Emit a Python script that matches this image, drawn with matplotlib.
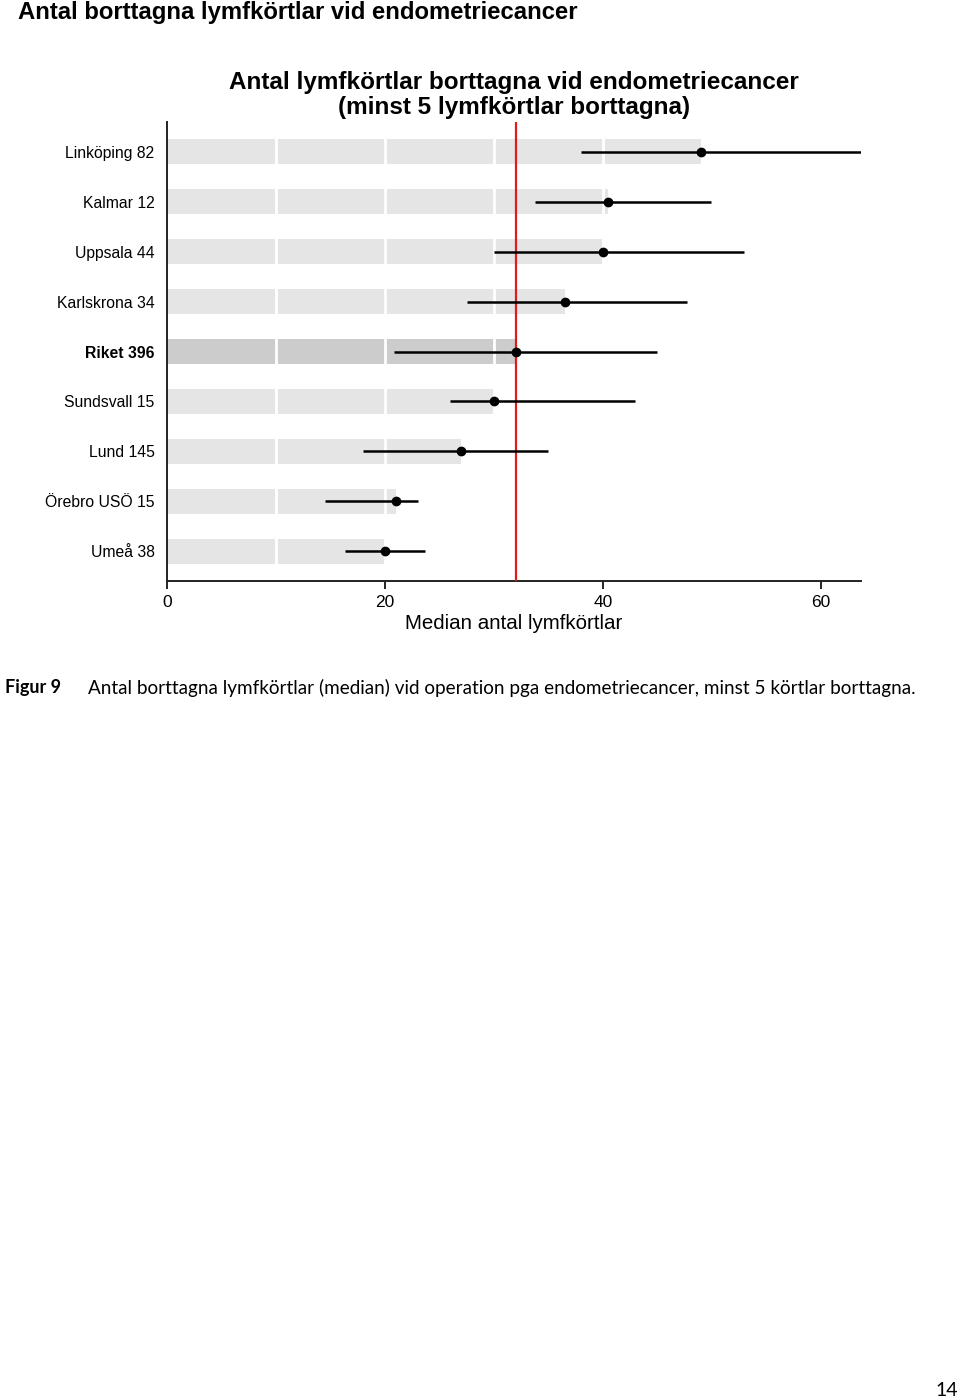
import matplotlib
matplotlib.use("Agg")
import matplotlib.pyplot as plt

labels = ["Linköping 82", "Kalmar 12", "Uppsala 44", "Karlskrona 34", "Riket 396",
          "Sundsvall 15", "Lund 145", "Örebro USÖ 15", "Umeå 38"]
median = [49, 40.5, 40, 36.5, 32, 30, 27, 21, 20]
ci_low = [38, 33.8, 30, 27.5, 20.8, 26, 18, 14.5, 16.3]
ci_high = [63.7, 49.9, 53, 47.7, 45, 43, 35, 23, 23.7]
riket_value = 32
xticks = [0, 20, 40, 60]
grid_x = [10, 20, 30, 40, 50]

plt.rcParams['font.family'] = ['Liberation Sans', 'DejaVu Sans']

fig = plt.figure(figsize=(9.6, 14), dpi=100)
ax = fig.add_axes([167/960, 1 - 581/1400, 694/960, 459/1400])

n = len(labels)
ypos = [n - 1 - i for i in range(n)]
colors = ["#cccccc" if l.startswith("Riket") else "#e5e5e5" for l in labels]

ax.barh(ypos, median, height=0.5, color=colors, zorder=1)
for g in grid_x:
    ax.axvline(g, color="white", lw=2, zorder=2)
ax.axvline(riket_value, color="#dd1c1c", lw=1.6, zorder=3)
for y, lo, hi, m in zip(ypos, ci_low, ci_high, median):
    ax.plot([lo, hi], [y, y], color="black", lw=1.8, zorder=4, solid_capstyle="butt")
    ax.plot([m], [y], "o", color="black", ms=6, zorder=5)

ax.set_xlim(0, 63.7)
ax.set_ylim(-0.6, n - 0.4)
ax.set_yticks(ypos)
ax.set_yticklabels(labels, fontsize=11.3)
for t in ax.get_yticklabels():
    if t.get_text().startswith("Riket"):
        t.set_fontweight("bold")
ax.tick_params(axis="y", length=0, pad=9)
ax.set_xticks(xticks)
ax.tick_params(axis="x", length=6, width=1.2, labelsize=12.5, pad=4)
ax.set_xlabel("Median antal lymfkörtlar", fontsize=14.8, labelpad=3)
for s in ["top", "right"]:
    ax.spines[s].set_visible(False)
for s in ["left", "bottom"]:
    ax.spines[s].set_linewidth(1.4)
    ax.spines[s].set_color("#222222")

fig.text(514/960, 1 - 95/1400,
         "Antal lymfkörtlar borttagna vid endometriecancer\n(minst 5 lymfkörtlar borttagna)",
         ha="center", va="center", fontsize=17.5, fontweight="bold",
         family=['Liberation Sans', 'DejaVu Sans'], linespacing=1.1)

fig.text(18/960, 1 - 12/1400, "Antal borttagna lymfkörtlar vid endometriecancer",
         ha="left", va="center", fontsize=17.2, fontweight="bold")

fig.text(5/960, 1 - 688/1400, "Figur 9", ha="left", va="center", fontsize=13,
         fontweight="bold", family=['Lato', 'DejaVu Sans'])
fig.text(88/960, 1 - 688/1400,
         "Antal borttagna lymfkörtlar (median) vid operation pga endometriecancer, minst 5 körtlar borttagna.",
         ha="left", va="center", fontsize=13.6, family=['Lato', 'DejaVu Sans'])
fig.text(958/960, 1 - 1390/1400, "14", ha="right", va="center", fontsize=14,
         family=['Lato', 'DejaVu Sans'])

fig.savefig("out.png", dpi=100, facecolor="white")
